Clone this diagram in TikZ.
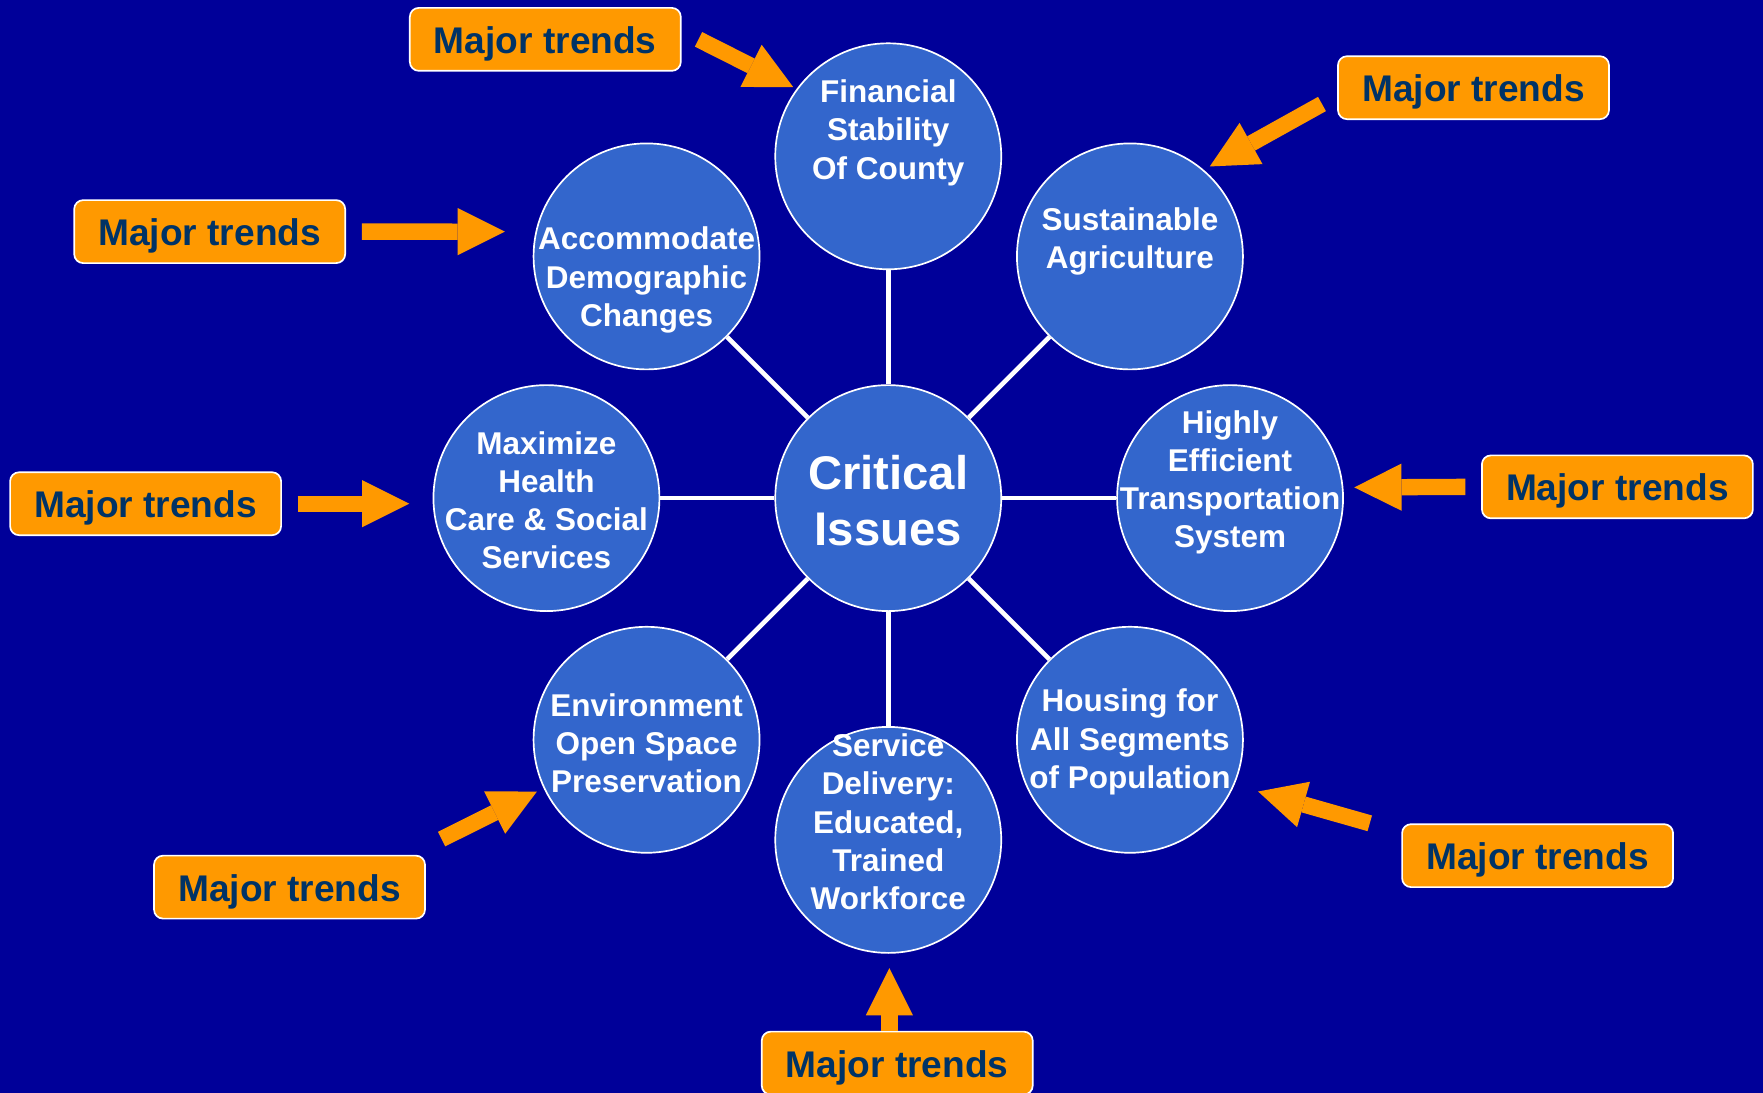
\documentclass[tikz,border=0pt]{standalone}
\usepackage{fontspec}
\setmainfont{Liberation Sans}
\usetikzlibrary{calc,arrows.meta}
\definecolor{bgblue}{HTML}{000099}
\definecolor{issueblue}{HTML}{3366CC}
\definecolor{trendorange}{HTML}{FF9900}
\definecolor{trendnavy}{HTML}{003366}
\tikzset{
  issue/.style={circle,fill=issueblue,draw=white,line width=1.5pt,minimum size=201pt,inner sep=0pt},
  issuetext/.style={text=white,align=center,font=\bfseries\fontsize{28}{34}\selectfont},
  trendbox/.style={rounded corners=8pt,fill=trendorange,draw=white,line width=1.5pt,
    minimum width=241pt,minimum height=56pt,inner sep=0pt,text=trendnavy,
    text height=32pt,text depth=7pt,
    font=\bfseries\fontsize{33}{40}\selectfont},
  trend/.style={draw=trendorange,line width=14.5pt,
    -{Triangle[length=42pt,width=42pt,line width=0pt]}},
  spoke/.style={draw=white,line width=4pt}
}

\begin{document}
\begin{tikzpicture}[x=1pt,y=-1pt]
    \useasboundingbox (0,0) rectangle (1568,972);
    \fill[bgblue] (0,0) rectangle (1568,972);
    \clip (0,0) rectangle (1568,972); % the bottom box runs off the page

    \node[issue] (ci) at (790,443) {};
    \node[issuetext,font=\bfseries\fontsize{42}{50}\selectfont] (tci) at ([yshift=-2pt]ci) {Critical\\Issues};
    \foreach \nm/\ang/\dy/\txt in {%
        fin/270/21/{Financial\\Stability\\Of County},
        sus/315/13/{Sustainable\\Agriculture},
        hes/0/14/{Highly\\Efficient\\Transportation\\System},
        hou/45/-2/{Housing for\\All Segments\\of Population},
        ser/90/16/{Service\\Delivery:\\Educated,\\Trained\\Workforce},
        env/135/-3/{Environment\\Open Space\\Preservation},
        mhc/180/-2/{Maximize\\Health\\Care \& Social\\Services},
        acc/225/-21/{Accommodate\\Demographic\\Changes}}{% one circle per issue
      \node[issue] (\nm) at ($(ci)+(\ang:304)$) {};
      \node[issuetext] (t\nm) at ([yshift=\dy pt]\nm) {\txt};
      \draw[spoke] (ci) -- (\nm);
    }

    \node[trendbox] (mt1) at (485,35) {Major trends};
    \node[trendbox] (mt2) at (1310.5,78) {Major trends};
    \node[trendbox] (mt3) at (186.5,206) {Major trends};
    \node[trendbox] (mt4) at (129.5,448) {Major trends};
    \node[trendbox] (mt5) at (1438.5,433) {Major trends};
    \node[trendbox] (mt6) at (257.5,789) {Major trends};
    \node[trendbox] (mt7) at (1367.5,761) {Major trends};
    \node[trendbox] (mt8) at (798,945.5) {Major trends};

    \draw[trend] ([xshift=15pt]mt1.east) -- ([shift={(-84.5,-61.5)}]fin.center);
    \draw[trend] ([shift={(-13.5,14.5)}]mt2.west) -- ([shift={(71,-80)}]sus.center);
    \draw[trend] ([xshift=14pt]mt3.east) -- ([shift={(-126,-22)}]acc.center);
    \draw[trend] ([xshift=14pt]mt4.east) -- ([shift={(-122,5)}]mhc.center);
    \draw[trend] ([xshift=-14pt]mt5.west) -- ([shift={(110.5,-9.5)}]hes.center);
    \draw[trend] ([shift={(14,-14)}]mt6.north east) -- ([shift={(-97.5,46)}]env.center);
    \draw[trend] ([xshift=-28pt]mt7.north west) -- ([shift={(114,46)}]hou.center);
    \draw[trend] ([xshift=-7pt]mt8.north) -- ([shift={(1,114)}]ser.center);
  \end{tikzpicture}
\end{document}
